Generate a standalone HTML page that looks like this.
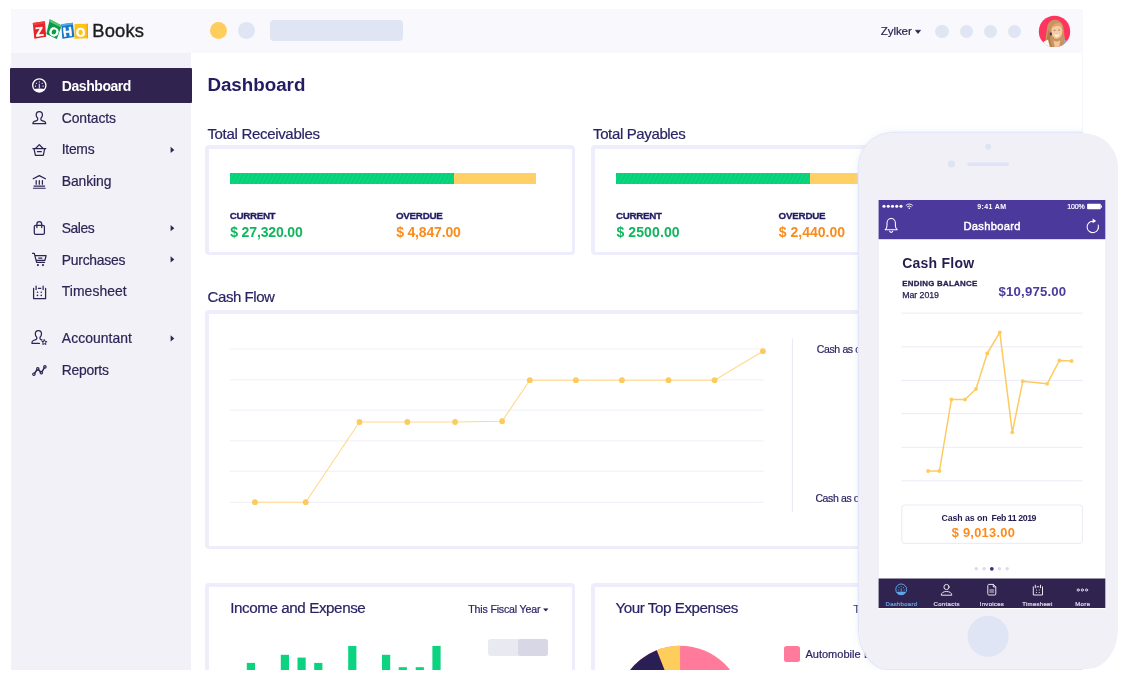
<!DOCTYPE html>
<html lang="en">
<head>
<meta charset="utf-8">
<title>Zoho Books – Dashboard</title>
<style>
*{box-sizing:border-box;margin:0;padding:0}
html,body{width:1127px;height:679px;background:#fff;overflow:hidden}
body{position:relative;font-family:"Liberation Sans",sans-serif;-webkit-font-smoothing:antialiased}
.abs{position:absolute}
.t{position:absolute;white-space:pre;font-family:"Liberation Sans",sans-serif}
#app{position:absolute;left:0;top:0;width:1127px;height:670px;overflow:hidden}
#header{position:absolute;left:10.5px;top:9px;width:1072.2px;height:44px;background:#f8f8fd}
#sidebar{position:absolute;left:10.5px;top:53px;width:180.6px;height:617px;background:#f2f1f8}
#main{position:absolute;left:191px;top:53px;width:892px;height:617px;background:#fff;border-right:1px solid #f6f6fc}
#active{position:absolute;left:10px;top:68px;width:182px;height:35px;background:#30234f;border-radius:1px}
.card{position:absolute;border:solid #eeedfb;border-width:4px 3.4px 3.4px 4px;border-radius:4px;background:#fff}
.dot{position:absolute;border-radius:50%;background:#e0e5f4}
svg{position:absolute;left:0;top:0;overflow:visible}
#phone{position:absolute;left:859px;top:132.8px;width:258.8px;height:536.4px;border-radius:34.5px 34.5px 30px 30px / 34.5px 34.5px 40px 40px;background:#f1f0f7}
#pshadow{position:absolute;left:0;top:0;width:1083px;height:670px;overflow:hidden}
#pshadow div{position:absolute;left:859px;top:132.8px;width:258.8px;height:536.4px;border-radius:34.5px 34.5px 30px 30px / 34.5px 34.5px 40px 40px;box-shadow:0 0 0 1.2px rgba(226,232,247,1),0 0 7px 0 rgba(205,212,240,.5)}
#screen{position:absolute;left:878.5px;top:199.5px;width:226.8px;height:409px;background:#fff;overflow:hidden}
</style>
</head>
<body>
<div id="app">
  <div id="header"></div>
  <div id="sidebar"></div>
  <div id="main"></div>
  <div id="active"></div>

  <!-- header widgets -->
  <div class="dot" style="left:210.2px;top:22px;width:17px;height:17px;background:#ffcd5c"></div>
  <div class="dot" style="left:238.3px;top:22px;width:17px;height:17px"></div>
  <div class="abs" style="left:270px;top:20.2px;width:133.4px;height:20.6px;border-radius:4px;background:#e0e5f4"></div>
  <div class="dot" style="left:935.4px;top:24.7px;width:13.2px;height:13.2px"></div>
  <div class="dot" style="left:959.8px;top:24.7px;width:13.2px;height:13.2px"></div>
  <div class="dot" style="left:983.9px;top:24.7px;width:13.2px;height:13.2px"></div>
  <div class="dot" style="left:1008.1px;top:24.7px;width:13.2px;height:13.2px"></div>

  <!-- cards -->
  <div class="card" style="left:205.1px;top:145px;width:370px;height:110px"></div>
  <div class="card" style="left:590.6px;top:145px;width:480px;height:110px"></div>
  <div class="card" style="left:205.1px;top:310.1px;width:866px;height:239px"></div>
  <div class="card" style="left:205.1px;top:583.2px;width:370px;height:120px"></div>
  <div class="card" style="left:590.6px;top:583.2px;width:480px;height:120px"></div>

  <!-- progress bars -->
  <div class="abs" style="left:229.8px;top:172.8px;width:224px;height:10.8px;background:repeating-linear-gradient(115deg,#05d177 0,#05d177 2px,#0fd785 2.6px,#0fd785 3.2px,#05d177 3.8px)"></div>
  <div class="abs" style="left:453.8px;top:172.8px;width:82.4px;height:10.8px;background:#ffd066"></div>
  <div class="abs" style="left:615.6px;top:172.8px;width:194px;height:10.8px;background:repeating-linear-gradient(115deg,#05d177 0,#05d177 2px,#0fd785 2.6px,#0fd785 3.2px,#05d177 3.8px)"></div>
  <div class="abs" style="left:809.6px;top:172.8px;width:80px;height:10.8px;background:#ffd066"></div>

  <!-- toggle -->
  <div class="abs" style="left:488px;top:638.6px;width:60px;height:17.4px;border-radius:3px;background:#e9e9f1"></div>
  <div class="abs" style="left:517.6px;top:638.6px;width:30.4px;height:17.4px;border-radius:3px;background:#d7d7e5"></div>
  <!-- legend -->
  <div class="abs" style="left:784.4px;top:646px;width:15.6px;height:15.8px;border-radius:2.5px;background:#ff7a9b"></div>

  <svg id="charts" width="1127" height="679" viewBox="0 0 1127 679">
    <g stroke="#eeeef9" stroke-width="1" fill="none">
  <path d="M229.7 349H763.5M229.7 379.8H763.5M229.7 410.2H763.5M229.7 440.9H763.5M229.7 471.2H763.5M229.7 502.3H763.5"/>
  <path d="M792.4 338.5V512" stroke="#e9e9f6"/>
</g>
<polyline fill="none" stroke="#ffd98a" stroke-width="1.1" points="254.9,502.2 305.7,502.2 359.5,422 407.3,422 455.1,422 502.1,421.2 529.8,380.2 575.9,380.2 621.9,380.2 668.5,380.2 714.6,380.2 762.9,351.2"/>
<g fill="#fdca5e">
  <circle cx="254.9" cy="502.2" r="2.9"/><circle cx="305.7" cy="502.2" r="2.9"/><circle cx="359.5" cy="422" r="2.9"/>
  <circle cx="407.3" cy="422" r="2.9"/><circle cx="455.1" cy="422" r="2.9"/><circle cx="502.1" cy="421.2" r="2.9"/>
  <circle cx="529.8" cy="380.2" r="2.9"/><circle cx="575.9" cy="380.2" r="2.9"/><circle cx="621.9" cy="380.2" r="2.9"/>
  <circle cx="668.5" cy="380.2" r="2.9"/><circle cx="714.6" cy="380.2" r="2.9"/><circle cx="762.9" cy="351.2" r="2.9"/>
</g>
<!-- income & expense bars -->
<g fill="#0cd380">
  <rect x="246.8" y="662.9" width="8.2" height="10"/>
  <rect x="280.8" y="654.8" width="8.2" height="18"/>
  <rect x="297.5" y="657.6" width="8.2" height="15"/>
  <rect x="314.2" y="662.9" width="8.2" height="10"/>
  <rect x="348.2" y="645.9" width="8.2" height="27"/>
  <rect x="382" y="654.8" width="8.2" height="18"/>
  <rect x="398.7" y="667.2" width="8.2" height="6"/>
  <rect x="415.7" y="667.2" width="8.2" height="6"/>
  <rect x="432.4" y="645.9" width="8.2" height="27"/>
</g>
<!-- pie -->
<g transform="translate(680.1 709.3)">
  <circle r="63.6" fill="#ff7a9b"/>
  <path d="M0 0L0 -63.6A63.6 63.6 0 0 0 -23.4 -59.1Z" fill="#ffcd5c"/>
  <path d="M0 0L-23.4 -59.1A63.6 63.6 0 0 0 -63.6 0Z" fill="#2a1f55"/>
</g>
<!-- carets -->
<path d="M915.3 30.2h5.400l-2.700 3.300z" fill="#261f4d" stroke="#261f4d" stroke-width=".5" stroke-linejoin="round"/>
<path d="M543.600 608.700h4.300l-2.150 2.500z" fill="#261f4d" stroke="#261f4d" stroke-width=".5" stroke-linejoin="round"/>

  </svg>

  <svg id="icons" width="1127" height="679" viewBox="0 0 1127 679">
    <!-- ZOHO logo -->
<g font-family="'Liberation Sans',sans-serif" font-weight="700" font-size="12.8" fill="#fff" stroke="#fff" stroke-width=".45" text-anchor="middle">
  <polygon points="32.8,23 44.9,21.2 46.2,36.8 34.3,38.7" fill="#e42527" stroke="none"/>
  <polygon points="32.8,23 44.9,21.2 45.1,23.6 33,25.4" fill="#f5393c" stroke="none"/>
  <text x="39.4" y="36" transform="rotate(-7 39.4 31.4)">Z</text>
  <polygon points="49.8,19.3 61.7,25.5 56.8,38.9 46.3,33.9" fill="#0a9a48" stroke="none"/>
  <polygon points="49.8,19.3 61.7,25.5 60.9,27.6 49,21.4" fill="#5cc272" stroke="none"/>
  <text x="54.2" y="36" font-size="12.2" transform="rotate(22 54.2 31.4)">O</text>
  <polygon points="61.3,24.3 72.8,22.7 74.4,37 62.3,38.7" fill="#1477c9" stroke="none"/>
  <polygon points="61.3,24.3 72.8,22.7 73,24.6 61.5,26.2" fill="#55a8e6" stroke="none"/>
  <text x="67.6" y="36.2" transform="rotate(-7 67.6 31.7)">H</text>
  <polygon points="74.6,24 88,23.7 88,38.3 74.4,38.7" fill="#fdc413" stroke="none"/>
  <polygon points="86.6,23.7 88,23.7 88,38.3 86.6,38.3" fill="#f9a51a" stroke="none"/>
  <text x="80.6" y="36.5" font-size="12.2" transform="rotate(-2 80.6 32)">O</text>
</g>
<!-- sidebar arrows -->
<g fill="#2e2454">
  <path d="M170.6 146.8l3.7 3.1-3.7 3.1z"/>
  <path d="M170.6 225.1l3.7 3.1-3.7 3.1z"/>
  <path d="M170.6 256.3l3.7 3.1-3.7 3.1z"/>
  <path d="M170.6 335.3l3.7 3.1-3.7 3.1z"/>
</g>
<!-- dashboard icon (active, white) -->
<g>
  <circle cx="39.3" cy="85.4" r="6.6" fill="none" stroke="#fff" stroke-width="1.3"/>
  <path d="M33.7 89A6.6 6.6 0 0 0 44.9 89Q39.3 87.900 33.7 89Z" fill="#fff"/>
  <g fill="#fff">
    <circle cx="35.500" cy="86.200" r=".6"/><circle cx="36.400" cy="83.300" r=".6"/><circle cx="39.300" cy="81.900" r=".6"/>
    <circle cx="42.200" cy="83.300" r=".6"/><circle cx="43.100" cy="86.200" r=".6"/>
  </g>
  <path d="M39.300 84.200v3.600" stroke="#fff" stroke-width=".9" stroke-linecap="round"/>
</g>
<g fill="none" stroke="#2e2454" stroke-width="1.25" stroke-linejoin="round" stroke-linecap="round">
  <!-- contacts -->
  <path d="M39.3 111.6c-1.9 0-3.1 1.4-3.1 3.3 0 1.5.6 2.6 1.5 3.3v1.2c0 .6-.4 1-1 1.200l-2.300.8c-1 .4-1.500 1.100-1.500 2.100v.2h12.800v-.2c0-1-.5-1.700-1.500-2.100l-2.300-.8c-.6-.2-1-.6-1-1.200v-1.200c.9-.7 1.500-1.800 1.500-3.300 0-1.900-1.200-3.300-3.100-3.300z"/>
  <!-- items basket -->
  <path d="M32.900 148.500h12.900M34 148.700l1.400 6.700h7.900l1.400-6.700M35.800 148.300l3.500-3.700 3.500 3.700M37.400 151.700h3.900"/>
  <!-- banking -->
  <path d="M33.200 178.800l6.100-3.200 6.100 3.200M36.200 180.500v3.700M39.300 180.500v3.700M42.400 180.500v3.700"/>
  <path d="M34 186.100h10.600M33.400 188.200h11.800" stroke-width="1.100"/>
  <!-- sales bag -->
  <path d="M35.700 225.300h7.300c.8 0 1.400.6 1.400 1.400v6.300c0 .8-.6 1.400-1.400 1.400h-7.300c-.8 0-1.400-.6-1.400-1.400v-6.300c0-.8.600-1.400 1.400-1.400zM36.900 227.600v-3.600c0-1.500 1-2.500 2.400-2.500s2.400 1 2.400 2.500v3.600"/>
  <!-- purchases cart -->
  <path d="M32.600 253.400h1.700l2.300 8.900h8M35.400 255.500h10.700l-1.200 4.800h-8.200M38.700 258.100h3.200"/>
  <!-- timesheet -->
  <path d="M33.600 288.300v10.300h12v-10.300M36.100 286.200v3.300M43.100 286.200v3.300M38.400 288.300h2.400"/>
  <!-- accountant -->
  <g transform="translate(.6 .8)">
  <path d="M41.400 339.300l-1-.4c-.6-.2-1-.6-1-1.200v-1.200c.9-.7 1.500-1.800 1.500-3.300 0-1.900-1.200-3.300-3.100-3.300s-3.100 1.400-3.100 3.300c0 1.500.6 2.600 1.500 3.300v1.200c0 .6-.4 1-1 1.200l-2.300.8c-1 .4-1.500 1.100-1.500 2.100v.8h7.400"/>
  <path d="M43.700 339l.8 1.600 1.700.2-1.200 1.200.3 1.700-1.600-.8-1.500.8.300-1.700-1.200-1.200 1.700-.2z" stroke-width="1"/>
  </g>
  <!-- reports -->
  <path d="M34.600 373.300l2.500-3.500M38.600 370l2 1.900M42 371.600l2.300-3.700" stroke-width="1.500"/>
</g>
<g fill="#2e2454">
  <circle cx="37.900" cy="265.100" r="1.050"/><circle cx="43" cy="265.100" r="1.050"/>
  <circle cx="37.500" cy="292.200" r=".8"/><circle cx="41.300" cy="292.200" r=".8"/><circle cx="37.500" cy="295.400" r=".8"/><circle cx="41.300" cy="295.400" r=".8"/>
</g>
<g fill="none" stroke="#2e2454" stroke-width="1.200">
  <circle cx="33.900" cy="374.200" r="1.200"/><circle cx="37.800" cy="368.900" r="1.200"/><circle cx="41.300" cy="372.700" r="1.200"/><circle cx="44.900" cy="366.900" r="1.200"/>
</g>
<!-- avatar -->
<defs><clipPath id="av"><circle cx="1054.500" cy="31.400" r="15.700"/></clipPath></defs>
<g clip-path="url(#av)">
  <rect x="1038" y="15" width="33" height="33" fill="#ff3560"/>
  <path d="M1041 48c.500-4.500 3.500-7.600 8.500-8.600l4 8.600z" fill="#fdf6f1"/>
  <path d="M1061.500 39.800c3 .300 5.500 2.600 6.500 8.200h-8z" fill="#9aa6d4"/>
  <path d="M1054.600 19.700c-4.700.300-7.300 4-7.700 9-.300 4.300-1.500 7.800-1.200 11.700.200 3 1.400 6 3.800 7.600h12.500c2.600-1.600 3.700-4.600 3.200-7.600-.500-3.300-1.200-6.400-1.300-9.800-.200-6.100-3.600-11.300-9.300-10.900z" fill="#c9955f"/>
  <path d="M1048.500 30c-.600 4.500-2.200 8-1.300 12.500.500 2.300 1.500 4 2.800 5.500h3.500c-2.500-3-3.500-6.500-3.200-10.500.200-2.700-.200-5-1.800-7.500z" fill="#b27d4a"/>
  <path d="M1052.400 26.500c-.900 2.300-1.100 4.700-.700 7 .500 2.800 2.200 4.900 4.800 5.200 2.600.200 4.700-1.800 5.400-4.600.600-2.500.400-5.100-.600-7.400-2.600-1.600-6.300-1.700-8.900-.200z" fill="#f5cba3"/>
  <path d="M1051.700 27.600c1.700-3.500 5-5.300 9-4.200 1.200 1 2 2.300 2.400 3.800-3.300-1.700-7.300-1.500-11.400.4z" fill="#dba873"/>
  <path d="M1054.400 34.300q2.500 1.300 5-.300-.800 2.600-2.700 2.600-1.800-.100-2.300-2.300z" fill="#fff"/>
  <path d="M1053.700 30.300h1.700M1058.300 30.100h1.700" stroke="#7a5230" stroke-width=".7" fill="none"/>
  <path d="M1053.500 40.500c2 1.500 4.600 1.500 6.800-.300l-1.300 7.800h-4z" fill="#f3c69d"/>
  <ellipse cx="1050.900" cy="33.900" rx=".9" ry="1.700" fill="#2a2550"/>
  <path d="M1041 48c.400-4.300 2.600-7.200 7-8.300l2.300 8.300z" fill="#fdf6f1"/>
  <path d="M1063.600 39.600c2 .400 3.400 1.400 4.400 3.400l-3 3.500z" fill="#9aa6d4"/>
</g>

  </svg>

<div class="t" style="left:92.3px;top:19.00px;font-size:18.4px;line-height:24px;letter-spacing:0.119px;color:#1c1c1c;-webkit-text-stroke:0.35px;">Books</div>
<div class="t" style="left:880.8px;top:23.00px;font-size:11.6px;line-height:15px;letter-spacing:-0.113px;color:#261f4d;-webkit-text-stroke:0.2px;">Zylker</div>
<div class="t" style="left:61.8px;top:77.00px;font-size:14px;line-height:18px;letter-spacing:-0.441px;color:#ffffff;font-weight:700;">Dashboard</div>
<div class="t" style="left:61.8px;top:109.00px;font-size:13.9px;line-height:18px;letter-spacing:-0.090px;color:#2e2454;-webkit-text-stroke:0.2px;">Contacts</div>
<div class="t" style="left:61.8px;top:140.00px;font-size:13.9px;line-height:18px;letter-spacing:-0.292px;color:#2e2454;-webkit-text-stroke:0.2px;">Items</div>
<div class="t" style="left:61.8px;top:172.00px;font-size:13.9px;line-height:18px;letter-spacing:-0.101px;color:#2e2454;-webkit-text-stroke:0.2px;">Banking</div>
<div class="t" style="left:61.8px;top:219.00px;font-size:13.9px;line-height:18px;letter-spacing:-0.488px;color:#2e2454;-webkit-text-stroke:0.2px;">Sales</div>
<div class="t" style="left:61.8px;top:251.00px;font-size:13.9px;line-height:18px;letter-spacing:-0.255px;color:#2e2454;-webkit-text-stroke:0.2px;">Purchases</div>
<div class="t" style="left:61.8px;top:282.00px;font-size:13.9px;line-height:18px;letter-spacing:0.057px;color:#2e2454;-webkit-text-stroke:0.2px;">Timesheet</div>
<div class="t" style="left:61.8px;top:329.00px;font-size:13.9px;line-height:18px;letter-spacing:0.076px;color:#2e2454;-webkit-text-stroke:0.2px;">Accountant</div>
<div class="t" style="left:61.8px;top:361.00px;font-size:13.9px;line-height:18px;letter-spacing:-0.257px;color:#2e2454;-webkit-text-stroke:0.2px;">Reports</div>
<div class="t" style="left:207.4px;top:73.00px;font-size:18.8px;line-height:24px;letter-spacing:-0.014px;color:#231c63;font-weight:700;">Dashboard</div>
<div class="t" style="left:207.4px;top:124.00px;font-size:15px;line-height:20px;letter-spacing:-0.310px;color:#2a2464;-webkit-text-stroke:0.2px;">Total Receivables</div>
<div class="t" style="left:593.0px;top:124.00px;font-size:15px;line-height:20px;letter-spacing:-0.366px;color:#2a2464;-webkit-text-stroke:0.2px;">Total Payables</div>
<div class="t" style="left:207.6px;top:287.00px;font-size:15px;line-height:20px;letter-spacing:-0.445px;color:#2a2464;-webkit-text-stroke:0.2px;">Cash Flow</div>
<div class="t" style="left:229.8px;top:209.00px;font-size:9.8px;line-height:13px;letter-spacing:-0.351px;color:#231c63;font-weight:700;-webkit-text-stroke:0.3px;">CURRENT</div>
<div class="t" style="left:396.0px;top:209.00px;font-size:9.8px;line-height:13px;letter-spacing:-0.276px;color:#231c63;font-weight:700;-webkit-text-stroke:0.3px;">OVERDUE</div>
<div class="t" style="left:230.2px;top:223.00px;font-size:14.0px;line-height:18px;letter-spacing:-0.137px;color:#10b65c;font-weight:700;">$ 27,320.00</div>
<div class="t" style="left:396.2px;top:223.00px;font-size:14.0px;line-height:18px;letter-spacing:-0.175px;color:#fa8c1c;font-weight:700;">$ 4,847.00</div>
<div class="t" style="left:616.0px;top:209.00px;font-size:9.8px;line-height:13px;letter-spacing:-0.318px;color:#231c63;font-weight:700;-webkit-text-stroke:0.3px;">CURRENT</div>
<div class="t" style="left:778.6px;top:209.00px;font-size:9.8px;line-height:13px;letter-spacing:-0.242px;color:#231c63;font-weight:700;-webkit-text-stroke:0.3px;">OVERDUE</div>
<div class="t" style="left:616.4px;top:223.00px;font-size:14.0px;line-height:18px;letter-spacing:0.113px;color:#10b65c;font-weight:700;">$ 2500.00</div>
<div class="t" style="left:778.8px;top:223.00px;font-size:14.0px;line-height:18px;letter-spacing:0.003px;color:#fa8c1c;font-weight:700;">$ 2,440.00</div>
<div class="t" style="left:816.8px;top:342.00px;font-size:10.5px;line-height:14px;letter-spacing:-0.369px;color:#2a2464;-webkit-text-stroke:0.2px;">Cash as on</div>
<div class="t" style="left:815.4px;top:491.00px;font-size:10.5px;line-height:14px;letter-spacing:-0.369px;color:#2a2464;-webkit-text-stroke:0.2px;">Cash as on</div>
<div class="t" style="left:230.2px;top:598.00px;font-size:15.2px;line-height:20px;letter-spacing:-0.417px;color:#2a2464;-webkit-text-stroke:0.2px;">Income and Expense</div>
<div class="t" style="left:468.3px;top:602.00px;font-size:10.6px;line-height:14px;letter-spacing:-0.172px;color:#2a2464;-webkit-text-stroke:0.2px;">This Fiscal Year</div>
<div class="t" style="left:615.4px;top:598.00px;font-size:15.2px;line-height:20px;letter-spacing:-0.440px;color:#2a2464;-webkit-text-stroke:0.2px;">Your Top Expenses</div>
<div class="t" style="left:853.6px;top:602.00px;font-size:10.6px;line-height:14px;letter-spacing:-0.172px;color:#2a2464;-webkit-text-stroke:0.2px;">This Fiscal Year</div>
<div class="t" style="left:805.4px;top:647.00px;font-size:11.0px;line-height:14px;letter-spacing:0.017px;color:#2a2464;-webkit-text-stroke:0.2px;">Automobile</div>
<div class="t" style="left:864.0px;top:647.00px;font-size:11.0px;line-height:14px;letter-spacing:-0.469px;color:#2a2464;-webkit-text-stroke:0.2px;">Expense</div>

  <!-- phone -->
  <div id="pshadow"><div></div></div>
  <div id="phone"></div>
  <div id="screen"></div>
  <svg id="pchart" width="1127" height="679" viewBox="0 0 1127 679">
    <!-- phone hardware -->
<circle cx="988.1" cy="146.700" r="3" fill="#dfe4f4"/>
<circle cx="951.400" cy="164" r="3.600" fill="#dfe4f4"/>
<rect x="967.300" y="162.600" width="41.600" height="3.400" rx="1.700" fill="#dee4f5"/>
<circle cx="988.100" cy="636.300" r="20.600" fill="#e0e5f5"/>
<!-- header -->
<rect x="878.600" y="200" width="226.700" height="39.200" fill="#4b399c"/>
<g fill="#fff">
  <circle cx="884" cy="206.300" r="1.550"/><circle cx="888.250" cy="206.300" r="1.550"/><circle cx="892.500" cy="206.300" r="1.550"/><circle cx="896.750" cy="206.300" r="1.550"/><circle cx="901" cy="206.300" r="1.550"/>
  <circle cx="909.300" cy="208.300" r=".8"/>
  <rect x="1087.100" y="203.700" width="13.700" height="5.600" rx=".8"/>
  <rect x="1101" y="205.300" width="1" height="2.400" rx=".4"/>
  <path d="M1092.600 218.600l3.600 2.300-3.600 2.300z"/>
</g>
<g fill="none" stroke="#fff" stroke-linecap="round">
  <path d="M906.100 205.200a4.600 4.600 0 0 1 6.400 0M907.400 206.700a2.800 2.800 0 0 1 3.800 0" stroke-width=".9"/>
  <path d="M885.200 229.700h12c-1.400-1.100-1.800-2.200-1.800-4.200v-2.400c0-2.600-1.800-4.600-4.200-4.600s-4.200 2-4.200 4.600v2.400c0 2-.4 3.100-1.800 4.200zM889.700 231.300c.3.700.8 1.100 1.500 1.100s1.200-.4 1.500-1.100" stroke-width="1.050" stroke-linejoin="round"/>
  <path d="M1092.800 221.200a5.700 5.700 0 1 0 5.400 3.900" stroke-width="1.050"/>
</g>
<!-- grid -->
<path d="M901.300 313.200H1082.700M901.300 346.800H1082.700M901.300 380.400H1082.700M901.300 413.600H1082.700M901.300 447.400H1082.700M901.300 480.800H1082.700" stroke="#ececf8" stroke-width="1" fill="none"/>
<polyline fill="none" stroke="#fdcb5f" stroke-width="1.500" stroke-linejoin="round" points="928.100,471 939.400,471 951.400,399.500 965,399.500 976,389 987.200,353.500 999.800,332.400 1012.300,432.300 1022.800,381.200 1047.200,383.800 1059.400,360.500 1071.600,361"/>
<g fill="#fdcb5f">
<circle cx="928.100" cy="471" r="1.900"/><circle cx="939.400" cy="471" r="1.900"/><circle cx="951.400" cy="399.500" r="1.900"/><circle cx="965" cy="399.500" r="1.900"/>
<circle cx="976" cy="389" r="1.900"/><circle cx="987.200" cy="353.500" r="1.900"/><circle cx="999.800" cy="332.400" r="1.900"/><circle cx="1012.300" cy="432.300" r="1.900"/>
<circle cx="1022.800" cy="381.200" r="1.900"/><circle cx="1047.200" cy="383.800" r="1.900"/><circle cx="1059.400" cy="360.500" r="1.900"/><circle cx="1071.600" cy="361" r="1.900"/>
</g>
<!-- cash card -->
<rect x="901.800" y="505" width="180.600" height="38.400" rx="3" fill="#fff" stroke="#eaeaf7" stroke-width="1"/>
<!-- pager -->
<g fill="#dddbf0"><circle cx="976.300" cy="568.800" r="1.800"/><circle cx="984.100" cy="568.800" r="1.800"/><circle cx="999.400" cy="568.800" r="1.800"/><circle cx="1007.200" cy="568.800" r="1.800"/></g>
<circle cx="991.800" cy="568.800" r="1.900" fill="#3d2e8f"/>
<!-- nav -->
<rect x="878.600" y="578.500" width="226.700" height="29.500" fill="#30234f"/>
<!-- nav: dashboard icon -->
<circle cx="901.200" cy="589.400" r="5.400" fill="none" stroke="#5ba6ea" stroke-width="1"/>
<path d="M896.400 592A5.400 5.400 0 0 0 906 592Q901.200 590.900 896.400 592Z" fill="#5ba6ea"/>
<g fill="#5ba6ea"><circle cx="898.200" cy="590" r=".6"/><circle cx="899" cy="587.600" r=".6"/><circle cx="901.200" cy="586.500" r=".6"/><circle cx="903.400" cy="587.600" r=".6"/><circle cx="904.200" cy="590" r=".6"/><rect x="900.750" y="588.200" width=".9" height="3" rx=".4"/></g>
<g fill="none" stroke="#e9e6f1" stroke-width="1" stroke-linejoin="round" stroke-linecap="round">
  <circle cx="946.500" cy="587" r="2.600"/>
  <path d="M941.200 594.800c0-2 2.300-3.300 5.300-3.300s5.300 1.300 5.300 3.300z"/>
  <path d="M987.800 585.400c0-.6.400-1 1-1h4.500l2.500 2.500v7.100c0 .6-.4 1-1 1h-6c-.6 0-1-.4-1-1zM993.300 584.500v2.400h2.400"/>
  <path d="M989.800 590h4M989.800 592h4" stroke-width=".9"/>
  <path d="M1033.300 586.800v8.200h9.200v-8.200M1035.300 585.200v2.600M1040.500 585.200v2.600M1037 586.800h1.800"/>
  <circle cx="1078.200" cy="590" r="1.100" stroke-width=".9"/><circle cx="1082.300" cy="590" r="1.100" stroke-width=".9"/><circle cx="1086.500" cy="590" r="1.100" stroke-width=".9"/>
</g>
<g fill="#e9e6f1"><circle cx="1036.500" cy="590" r=".6"/><circle cx="1039.300" cy="590" r=".6"/><circle cx="1036.500" cy="592.500" r=".6"/><circle cx="1039.300" cy="592.500" r=".6"/></g>

  </svg>
<div class="t" style="left:977.2px;top:202.00px;font-size:7.0px;line-height:9px;letter-spacing:0.384px;color:#ffffff;font-weight:700;">9:41 AM</div>
<div class="t" style="left:1067.2px;top:202.00px;font-size:7.0px;line-height:9px;letter-spacing:-0.102px;color:#ffffff;-webkit-text-stroke:0.2px;">100%</div>
<div class="t" style="left:963.5px;top:219.00px;font-size:11.2px;line-height:15px;letter-spacing:0.283px;color:#ffffff;-webkit-text-stroke:0.45px;">Dashboard</div>
<div class="t" style="left:902.2px;top:254.00px;font-size:14.0px;line-height:18px;letter-spacing:0.248px;color:#241d4f;font-weight:700;">Cash Flow</div>
<div class="t" style="left:902.2px;top:279.00px;font-size:7.9px;line-height:10px;letter-spacing:0.279px;color:#241d4f;font-weight:700;-webkit-text-stroke:0.3px;">ENDING BALANCE</div>
<div class="t" style="left:902.2px;top:290.00px;font-size:8.8px;line-height:11px;letter-spacing:-0.053px;color:#241d4f;-webkit-text-stroke:0.25px;">Mar 2019</div>
<div class="t" style="left:998.5px;top:283.00px;font-size:13.2px;line-height:17px;letter-spacing:0.187px;color:#4d3a9e;font-weight:700;">$10,975.00</div>
<div class="t" style="left:941.4px;top:513.00px;font-size:8.8px;line-height:11px;letter-spacing:-0.082px;color:#241d4f;font-weight:700;">Cash as on</div>
<div class="t" style="left:991.5px;top:513.00px;font-size:8.8px;line-height:11px;letter-spacing:-0.441px;color:#241d4f;font-weight:700;">Feb 11 2019</div>
<div class="t" style="left:951.7px;top:524.00px;font-size:12.8px;line-height:17px;letter-spacing:0.289px;color:#ff8a17;font-weight:700;">$ 9,013.00</div>
<div class="t" style="left:885.6px;top:600.00px;font-size:6.0px;line-height:8px;letter-spacing:0.255px;color:#62a8ee;-webkit-text-stroke:0.2px;">Dashboard</div>
<div class="t" style="left:933.5px;top:600.00px;font-size:6.0px;line-height:8px;letter-spacing:0.345px;color:#e2deec;-webkit-text-stroke:0.2px;">Contacts</div>
<div class="t" style="left:979.8px;top:600.00px;font-size:6.0px;line-height:8px;letter-spacing:0.283px;color:#e2deec;-webkit-text-stroke:0.2px;">Invoices</div>
<div class="t" style="left:1022.3px;top:600.00px;font-size:6.0px;line-height:8px;letter-spacing:0.275px;color:#e2deec;-webkit-text-stroke:0.2px;">Timesheet</div>
<div class="t" style="left:1075.2px;top:600.00px;font-size:6.0px;line-height:8px;letter-spacing:0.409px;color:#e2deec;-webkit-text-stroke:0.2px;">More</div>
</div>
</body>
</html>
